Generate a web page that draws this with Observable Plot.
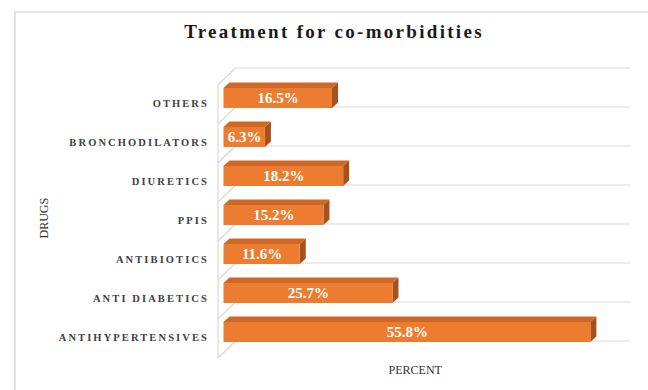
<!DOCTYPE html>
<html>
<head>
<meta charset="utf-8">
<script src="https://cdn.jsdelivr.net/npm/d3@7"></script>
<script src="https://cdn.jsdelivr.net/npm/@observablehq/plot@0.6"></script>
<style>
  html, body { margin: 0; padding: 0; background: #fff; }
  #wrap { position: relative; width: 648px; height: 390px; overflow: hidden; }
  #frame { position: absolute; left: 14px; top: 11px; width: 700px; height: 450px;
           border-left: 2px solid #e3e3e3; border-top: 2px solid #e6e6e6; z-index: 2; pointer-events: none; }
  #title { position: absolute; left: 334px; top: 22px; transform: translateX(-50%);
           font-family: "Liberation Serif", serif; font-weight: bold; font-size: 19px; line-height: 19px;
           letter-spacing: 2.3px; color: #1a1a1a; white-space: nowrap; z-index: 3; }
</style>
</head>
<body>
<div id="wrap">
  <div id="frame"></div>
  <div id="title">Treatment for co-morbidities</div>
  <div id="chart"></div>
</div>
<script>
const categories = ["OTHERS", "BRONCHODILATORS", "DIURETICS", "PPIS", "ANTIBIOTICS", "ANTI DIABETICS", "ANTIHYPERTENSIVES"];
const percents = [16.5, 6.3, 18.2, 15.2, 11.6, 25.7, 55.8];
const xAxisTitle = "PERCENT";
const yAxisTitle = "DRUGS";
const xDomain = [0, 60];

const data = categories.map((c, i) => ({category: c, value: percents[i]}));

const FRONT = "#ec7c30", TOP = "#cf6826", SIDE = "#a7521c", WALL = "#d9d9d9";

// back wall, side wall and gridlines (drawn through the scales)
function walls(index, scales) {
  const {x, y} = scales;
  const bw = y.bandwidth(), step = y.step();
  const g = d3.create("svg:g").attr("stroke", WALL).attr("fill", "none").attr("stroke-width", 1.2);
  const x0 = x(xDomain[0]), x1 = x(xDomain[1]);
  const ys = [y(categories[0]) - (step - bw) - 1, ...categories.map(c => y(c) + bw - 1)];
  const depth = 17, back = 12, front = -5.5;
  for (const Y of ys) {
    g.append("line").attr("x1", x0 + back).attr("x2", x1 + back).attr("y1", Y).attr("y2", Y);
    g.append("line").attr("x1", x0 + front).attr("x2", x0 + back).attr("y1", Y + depth).attr("y2", Y);
  }
  g.append("line").attr("x1", x0 + front).attr("x2", x0 + front)
    .attr("y1", ys[0] + depth).attr("y2", ys[ys.length - 1] + depth);
  return g.node();
}

// 3D top and side faces of each bar (drawn through the scales)
function faces(index, scales) {
  const {x, y} = scales;
  const bw = y.bandwidth();
  const dx = 6, dy = -5.5;
  const g = d3.create("svg:g");
  for (const d of data) {
    const xa = x(0), xb = x(d.value), yt = y(d.category), yb = yt + bw;
    g.append("path").attr("fill", TOP)
      .attr("d", `M${xa},${yt}L${xa + dx},${yt + dy}L${xb + dx},${yt + dy}L${xb},${yt}Z`);
    g.append("path").attr("fill", SIDE)
      .attr("d", `M${xb},${yt}L${xb + dx},${yt + dy}L${xb + dx},${yb + dy}L${xb},${yb}Z`);
  }
  return g.node();
}

const chart = Plot.plot({
  width: 648,
  height: 390,
  marginTop: 65,
  marginBottom: 26,
  marginLeft: 223.5,
  marginRight: 30,
  style: {background: "transparent"},
  x: {domain: xDomain, axis: null},
  y: {domain: categories, axis: null, padding: 0.5},
  marks: [
    walls,
    faces,
    Plot.barX(data, {x: "value", y: "category", fill: FRONT}),
    Plot.text(data, {
      x: d => d.value / 2, y: "category", text: d => d.value.toFixed(1) + "%",
      fill: "white", fontWeight: "bold", fontSize: 15, fontFamily: "Liberation Serif"
    }),
    Plot.text(data, {
      y: "category", text: "category", frameAnchor: "left", textAnchor: "end",
      dx: -15, dy: 5, fontSize: 10.5, fontWeight: "bold", fill: "#404040",
      fontFamily: "Liberation Serif"
    }),
    Plot.text([yAxisTitle], {
      text: d => d, frameAnchor: "left", lineAnchor: "middle", dx: -180, dy: 23.5, rotate: -90,
      fontSize: 12, fill: "#333", fontFamily: "Liberation Serif"
    }),
    Plot.text([xAxisTitle], {
      text: d => d, frameAnchor: "bottom", lineAnchor: "middle", dx: -6, dy: 5.5,
      fontSize: 12, fill: "#333", fontFamily: "Liberation Serif"
    })
  ]
});
d3.select(chart).selectAll("text")
  .filter(function () { return categories.includes(this.textContent); })
  .style("letter-spacing", "2.1px");
document.getElementById("chart").appendChild(chart);
</script>
</body>
</html>
